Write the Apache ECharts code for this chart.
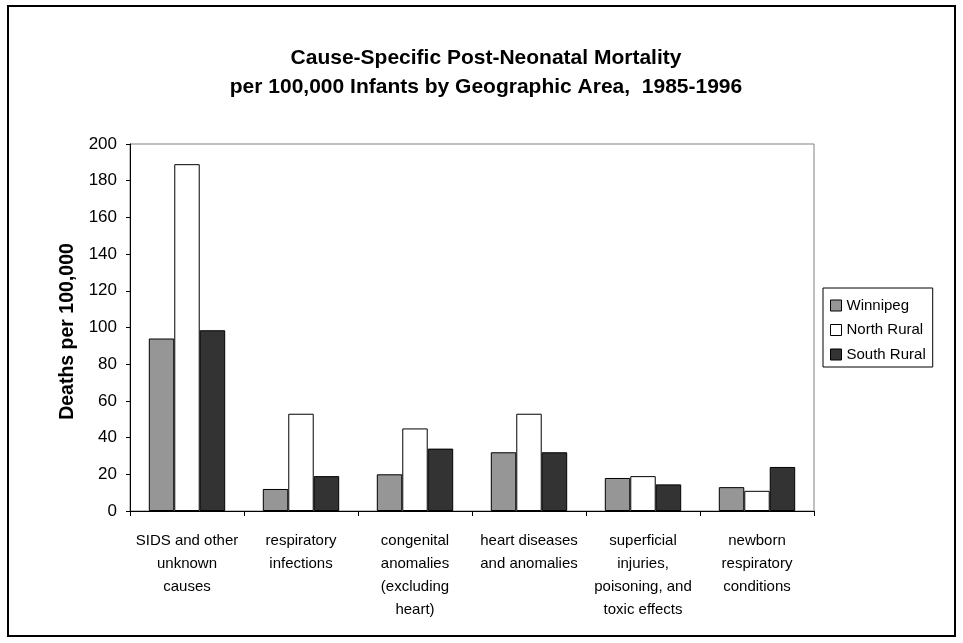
<!DOCTYPE html>
<html><head><meta charset="utf-8">
<script src="https://cdn.jsdelivr.net/npm/echarts@6/dist/echarts.min.js"></script>
<style>html,body{margin:0;padding:0;background:#fff}#c{width:963px;height:643px}</style>
</head><body><div id="c"></div>
<script>
const categories = ["SIDS and other\nunknown\ncauses","respiratory\ninfections","congenital\nanomalies\n(excluding\nheart)","heart diseases\nand anomalies","superficial\ninjuries,\npoisoning, and\ntoxic effects","newborn\nrespiratory\nconditions"];
const seriesNames = ["Winnipeg","North Rural","South Rural"];
const winnipeg = [94, 12, 20, 32, 18, 13];
const northRural = [189, 53, 45, 53, 19, 11];
const southRural = [98.5, 19, 34, 32, 14.5, 24];
const yTicks = [0, 20, 40, 60, 80, 100, 120, 140, 160, 180, 200];
const colors = ["#969696", "#ffffff", "#333333"];
const font = "'Liberation Sans', Arial, sans-serif";
const chart = echarts.init(document.getElementById('c'), null, {renderer:'canvas'});
const values = [winnipeg, northRural, southRural];
chart.setOption({
  animation:false,
  title:{text:"Cause-Specific Post-Neonatal Mortality\nper 100,000 Infants by Geographic Area,  1985-1996",
    left:486, top:44, textAlign:'center', padding:0,
    textStyle:{fontFamily:font,fontWeight:'bold',fontSize:21,color:'#000',lineHeight:28.5}},
  graphic:[{type:'rect',shape:{x:8,y:6,width:947,height:630},style:{fill:'none',stroke:'#000',lineWidth:2},z:-1}],
  legend:{orient:'vertical',left:823,top:288,padding:[10,7,5,7],
    itemWidth:11,itemHeight:11,itemGap:9.5,borderColor:'#000',borderWidth:1,
    icon:'rect',data:seriesNames,
    itemStyle:{borderColor:'#000',borderWidth:1},
    textStyle:{fontFamily:font,fontSize:15,color:'#000'}},
  grid:{left:130,right:149,top:144,bottom:132,show:true,borderColor:'#808080',borderWidth:1,backgroundColor:'transparent'},
  xAxis:{type:'category',data:categories,boundaryGap:true,
    axisLine:{lineStyle:{color:'#000',width:1}},
    axisTick:{show:true,length:5,alignWithLabel:false,lineStyle:{color:'#000'}},
    axisLabel:{interval:0,fontFamily:font,fontSize:15,color:'#000',lineHeight:23,margin:18}},
  yAxis:{type:'value',min:yTicks[0],max:yTicks[yTicks.length-1],interval:20,
    name:'Deaths per 100,000',nameLocation:'middle',nameGap:52,
    nameTextStyle:{fontFamily:font,fontWeight:'bold',fontSize:19.5,color:'#000',padding:[0,0,0,-8]},
    axisLine:{show:true,lineStyle:{color:'#000',width:1}},
    axisTick:{show:true,length:4,lineStyle:{color:'#000'}},
    splitLine:{show:false},
    axisLabel:{fontFamily:font,fontSize:17,color:'#000',margin:13}},
  series:seriesNames.map((n,i)=>({name:n,type:'bar',data:values[i],barGap:'0%',barCategoryGap:'33%',
    itemStyle:{color:colors[i],borderColor:'#000',borderWidth:1}}))
});
</script></body></html>
